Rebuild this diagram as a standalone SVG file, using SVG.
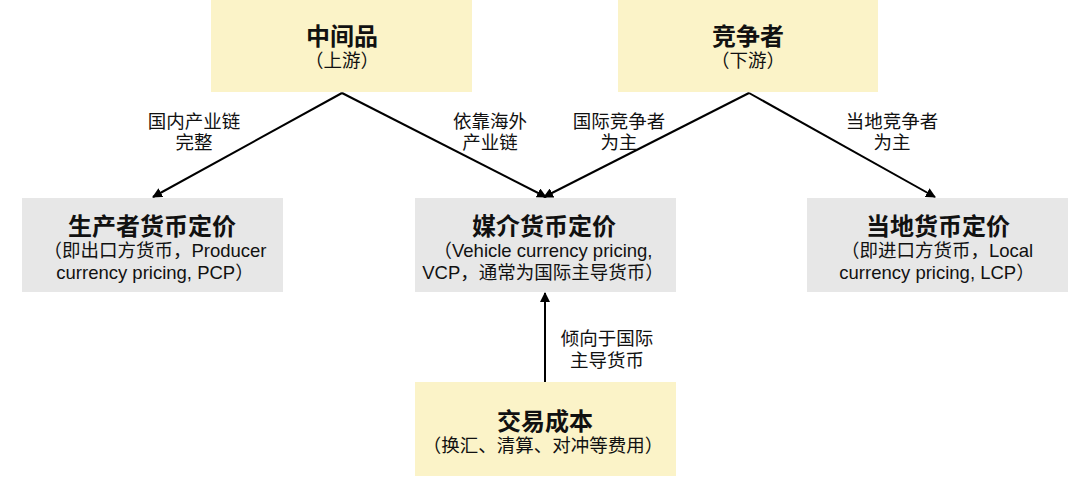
<svg xmlns="http://www.w3.org/2000/svg" width="1080" height="480" viewBox="0 0 1080 480">
<style>
text{font-family:"Liberation Sans","Noto Sans CJK SC",sans-serif;fill:#111;text-anchor:middle}
.t{font-size:24px;font-weight:bold}
.s{font-size:18.5px}
.l{font-size:18.5px}
.y{fill:#FBF3C8}
.g{fill:#E7E7E7}
.c{stroke:#000;stroke-width:2;fill:none;marker-end:url(#a)}
</style>
<defs>
<marker id="a" viewBox="0 0 10 10" refX="9" refY="5" markerWidth="5" markerHeight="5" orient="auto" markerUnits="strokeWidth">
<path d="M0,0 L10,5 L0,10 z" fill="#000"/>
</marker>
</defs>
<rect width="1080" height="480" fill="#fff"/>
<g id="connectors">
<path class="c" d="M342,93 L153,197"/>
<path class="c" d="M342,93 L546,197"/>
<path class="c" d="M749,93 L544,197"/>
<path class="c" d="M749,93 L935,197"/>
<path class="c" d="M545,382 L545,293"/>
<text class="l" x="194" y="128">国内产业链</text>
<text class="l" x="194" y="149">完整</text>
<text class="l" x="490" y="128">依靠海外</text>
<text class="l" x="490" y="149">产业链</text>
<text class="l" x="619" y="128">国际竞争者</text>
<text class="l" x="619" y="149">为主</text>
<text class="l" x="892" y="128">当地竞争者</text>
<text class="l" x="892" y="149">为主</text>
<text class="l" x="607" y="345">倾向于国际</text>
<text class="l" x="607" y="367">主导货币</text>
</g>
<g id="upstream">
<rect class="y" x="211" y="0" width="261" height="92"/>
<text class="t" x="342" y="45">中间品</text>
<text class="s" x="342" y="67">（上游）</text>
</g>
<g id="competitor">
<rect class="y" x="618" y="0" width="260" height="92"/>
<text class="t" x="748" y="45">竞争者</text>
<text class="s" x="748" y="67">（下游）</text>
</g>
<g id="pcp">
<rect class="g" x="22" y="198" width="261" height="94"/>
<text class="t" x="152" y="235">生产者货币定价</text>
<text class="s" x="155" y="257">（即出口方货币，Producer</text>
<text class="s" x="155" y="279">currency pricing, PCP）</text>
</g>
<g id="vcp">
<rect class="g" x="415" y="198" width="261" height="94"/>
<text class="t" x="544" y="235">媒介货币定价</text>
<text class="s" x="543" y="257">（Vehicle currency pricing,</text>
<text class="s" x="543" y="279">VCP，通常为国际主导货币）</text>
</g>
<g id="lcp">
<rect class="g" x="807" y="198" width="261" height="94"/>
<text class="t" x="938" y="235">当地货币定价</text>
<text class="s" x="937" y="257">（即进口方货币，Local</text>
<text class="s" x="937" y="279">currency pricing, LCP）</text>
</g>
<g id="cost">
<rect class="y" x="415" y="382" width="261" height="94"/>
<text class="t" x="545" y="430">交易成本</text>
<text class="s" x="543" y="452">（换汇、清算、对冲等费用）</text>
</g>
</svg>
